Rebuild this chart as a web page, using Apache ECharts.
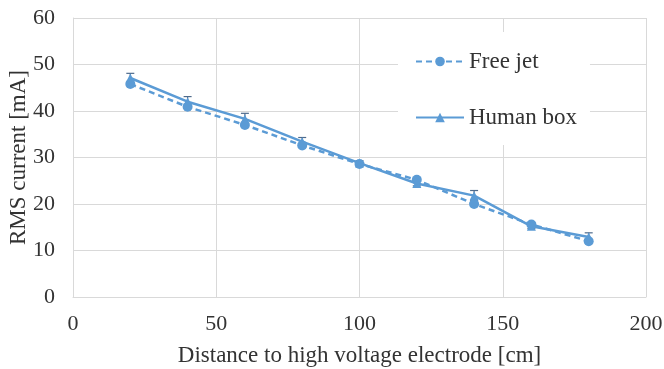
<!DOCTYPE html>
<html>
<head>
<meta charset="utf-8">
<script src="https://cdn.jsdelivr.net/npm/echarts@6/dist/echarts.min.js"></script>
<style>
  html, body { margin: 0; padding: 0; background: #fff; }
  #chart { width: 664px; height: 369px; }
</style>
</head>
<body>
<div id="chart"></div>
<script>
// Distance from the high voltage electrode [cm]
const distances = [20, 40, 60, 80, 100, 120, 140, 160, 180];
// RMS current [mA]
const freeJet = [45.8, 40.9, 37.0, 32.6, 28.6, 25.2, 20.0, 15.6, 12.0];
const humanBox = [47.1, 42.0, 38.3, 33.4, 28.8, 24.4, 21.8, 15.2, 12.9];
// Spread of the human box measurements [mA]
const humanBoxErr = [1.0, 1.1, 1.2, 0.9, 0.5, 0.5, 1.1, 0.5, 0.9];
const xTicks = [0, 50, 100, 150, 200];
const yTicks = [0, 10, 20, 30, 40, 50, 60];

const FONT = "'Liberation Serif', 'Times New Roman', serif";
const BLUE = '#5b9bd5';
const GRID = '#d9d9d9';
const TEXT = '#333333';

const pairs = (ys) => distances.map((x, i) => [x, ys[i]]);
const errData = distances.map((x, i) => [x, humanBox[i] - humanBoxErr[i], humanBox[i] + humanBoxErr[i]]);

const chart = echarts.init(document.getElementById('chart'), null, { renderer: 'canvas' });
chart.setOption({
  animation: false,
  backgroundColor: '#fff',
  textStyle: { fontFamily: FONT },
  grid: { left: 73, right: 18, top: 18, bottom: 72, containLabel: false, outerBoundsMode: 'none' },
  xAxis: {
    type: 'value',
    min: xTicks[0],
    max: xTicks[xTicks.length - 1],
    interval: xTicks[1] - xTicks[0],
    name: 'Distance to high voltage electrode [cm]',
    nameLocation: 'middle',
    nameGap: 47,
    nameMoveOverlap: false,
    nameTextStyle: { fontFamily: FONT, fontSize: 23, color: TEXT },
    axisLine: { show: true, lineStyle: { color: GRID, width: 1 } },
    axisTick: { show: false },
    axisLabel: { fontFamily: FONT, fontSize: 22, color: TEXT, margin: 16 },
    splitLine: { show: true, lineStyle: { color: GRID, width: 1 } }
  },
  yAxis: {
    type: 'value',
    min: yTicks[0],
    max: yTicks[yTicks.length - 1],
    interval: yTicks[1] - yTicks[0],
    name: 'RMS current [mA]',
    nameLocation: 'middle',
    nameGap: 43,
    nameMoveOverlap: false,
    nameRotate: 90,
    nameTextStyle: { fontFamily: FONT, fontSize: 23, color: TEXT },
    axisLine: { show: true, lineStyle: { color: GRID, width: 1 } },
    axisTick: { show: false },
    axisLabel: { fontFamily: FONT, fontSize: 22, color: TEXT, margin: 18 },
    splitLine: { show: true, lineStyle: { color: GRID, width: 1 } }
  },
  legend: {
    orient: 'vertical',
    left: 398,
    top: 32,
    backgroundColor: '#fff',
    padding: [18, 13, 16, 17],
    itemWidth: 48,
    itemHeight: 12,
    itemGap: 33,
    textStyle: { fontFamily: FONT, fontSize: 23, color: TEXT, padding: [0, 0, 0, 0] },
    data: ['Free jet', 'Human box']
  },
  series: [
    {
      name: 'Human box',
      type: 'line',
      data: pairs(humanBox),
      symbol: 'triangle',
      symbolSize: 9,
      itemStyle: { color: BLUE },
      lineStyle: { color: BLUE, width: 2.5, type: 'solid' },
      z: 3
    },
    {
      name: 'Free jet',
      type: 'line',
      data: pairs(freeJet),
      symbol: 'circle',
      symbolSize: 10,
      itemStyle: { color: BLUE },
      lineStyle: { color: BLUE, width: 2.5, type: [6, 4] },
      z: 4
    },
    {
      name: 'Human box error',
      type: 'custom',
      data: errData,
      z: 2,
      renderItem: function (params, api) {
        const x = api.value(0);
        const lo = api.coord([x, api.value(1)]);
        const hi = api.coord([x, api.value(2)]);
        const half = 4;
        const style = { stroke: '#4f6b8c', lineWidth: 1.2 };
        return {
          type: 'group',
          children: [
            { type: 'line', shape: { x1: lo[0], y1: lo[1], x2: hi[0], y2: hi[1] }, style: style },
            { type: 'line', shape: { x1: hi[0] - half, y1: hi[1], x2: hi[0] + half, y2: hi[1] }, style: style },
            { type: 'line', shape: { x1: lo[0] - half, y1: lo[1], x2: lo[0] + half, y2: lo[1] }, style: style }
          ]
        };
      },
      encode: { x: 0, y: [1, 2] },
      silent: true
    }
  ]
});
</script>
</body>
</html>
